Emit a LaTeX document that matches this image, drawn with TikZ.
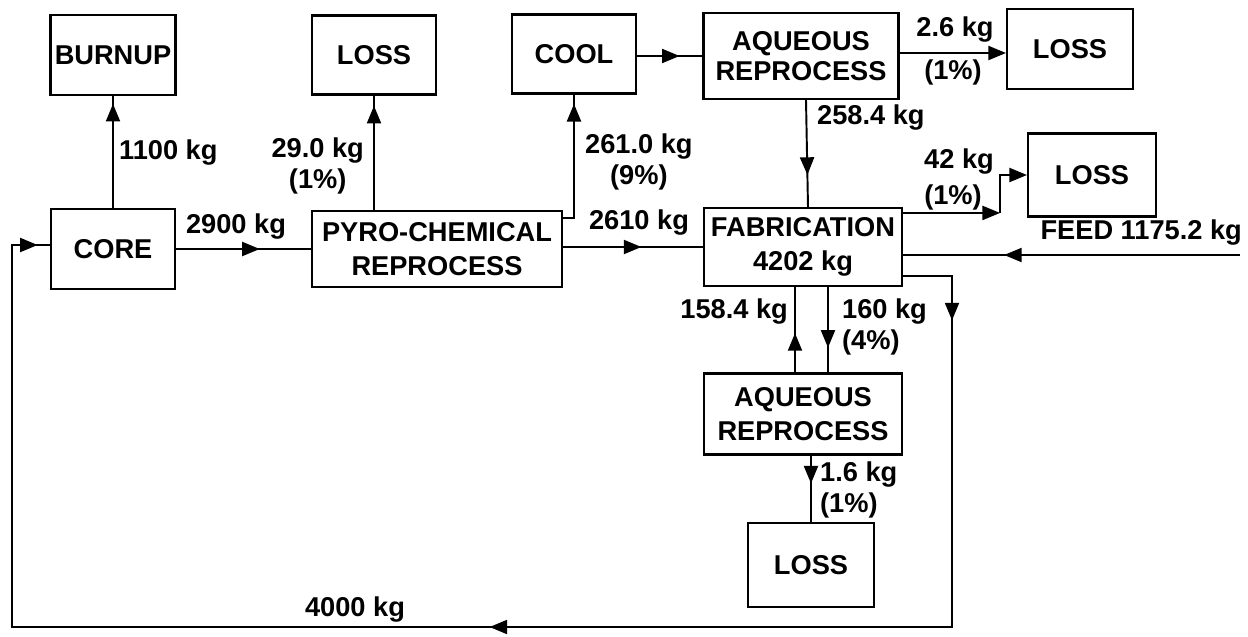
\documentclass[tikz,border=0pt]{standalone}
\usepackage{fontspec}
\setmainfont{Liberation Sans}
\usetikzlibrary{arrows.meta,decorations.markings}
\tikzset{
  blk/.style={draw,line width=1.2pt,align=center,inner sep=1pt,font=\bfseries\fontsize{15.5}{19}\selectfont},
  qty/.style={align=center,inner sep=1pt,font=\bfseries\fontsize{15.5}{17.5}\selectfont},
  flow/.style={line width=1.1pt},
  endtip/.style={-{Triangle[length=10pt,width=8pt]}},
  tipat/.style={postaction={decorate},decoration={markings,mark=at position #1 with {\arrow{Triangle[length=10pt,width=8pt]}}}}
}
\begin{document}
\begin{tikzpicture}[x=0.02cm,y=-0.02cm]
      \useasboundingbox (0,0) rectangle (1248,636);
      \node[blk,minimum width=2.5cm,minimum height=1.6cm] (burnup) at (113,55) {BURNUP};
      \node[blk,minimum width=2.48cm,minimum height=1.58cm] (lossa) at (374,55) {LOSS};
      \node[blk,minimum width=2.48cm,minimum height=1.58cm] (cool) at (574,54) {COOL};
      \node[blk,minimum width=3.9cm,minimum height=1.72cm,font=\bfseries\fontsize{15.5}{17}\selectfont] (aqtop) at (801,56) {AQUEOUS\\REPROCESS};
      \node[blk,minimum width=2.52cm,minimum height=1.6cm] (lossb) at (1070,49) {LOSS};
      \node[blk,minimum width=2.56cm,minimum height=1.66cm] (lossc) at (1092,175) {LOSS};
      \node[blk,minimum width=2.48cm,minimum height=1.6cm] (core) at (113,249) {CORE};
      \node[blk,minimum width=5cm,minimum height=1.52cm] (pyro) at (437,249) {PYRO-CHEMICAL\\REPROCESS};
      \node[blk,minimum width=3.96cm,minimum height=1.56cm] (fab) at (803,247) {FABRICATION\\4202 kg};
      \node[blk,minimum width=3.96cm,minimum height=1.62cm] (aqlow) at (803,414) {AQUEOUS\\REPROCESS};
      \node[blk,minimum width=2.52cm,minimum height=1.68cm] (lossd) at (811,565) {LOSS};

      \node[qty,anchor=west] (m1100) at (117,153) {1100 kg};
      \node[qty,anchor=east] (m290) at (366,166) {29.0 kg\\(1\%)};
      \node[qty,anchor=west] (m2610a) at (583,162) {261.0 kg\\(9\%)};
      \node[qty] (m2900) at (236,227) {2900 kg};
      \node[qty] (m2610) at (639,223) {2610 kg};
      \node[qty] (m26) at (955,30) {2.6 kg};
      \node[qty] (p26) at (953,72) {(1\%)};
      \node[qty,anchor=west] (m2584) at (815,118) {258.4 kg};
      \node[qty] (m42) at (959,162) {42 kg};
      \node[qty] (p42) at (953,197) {(1\%)};
      \node[qty,anchor=east] (mfeed) at (1244,233) {FEED 1175.2 kg};
      \node[qty] (m4000) at (355,610) {4000 kg};
      \node[qty,anchor=east] (m1584) at (790,312) {158.4 kg};
      \node[qty,anchor=west,align=left] (m160) at (840,327) {160 kg\\(4\%)};
      \node[qty,anchor=west,align=left] (m16) at (818,490) {1.6 kg\\(1\%)};

      \coordinate (aqout) at ([yshift=0.06cm]aqtop.east);
      \coordinate (fabloss) at ([yshift=-0.12cm]fab.north east);
      \coordinate (feedin) at (1240,255);
      \coordinate (retr) at (952,627);
      \coordinate (retl) at (12,627);

      \draw[flow,tipat=0.93] (core.north) -- (burnup.south);
      \draw[flow,tipat=0.91] (lossa.south |- pyro.north) -- (lossa.south);
      \draw[flow,tipat=0.93] ([yshift=-0.16cm]pyro.north east) -| (cool.south);
      \draw[flow,tipat=0.65] (cool.east |- aqtop.west) -- (aqtop.west);
      \draw[flow,endtip] (aqout) -- (lossb.west |- aqout);
      \draw[flow,tipat=0.7] ([xshift=0.1cm]aqtop.south) -- ([xshift=0.1cm]fab.north);
      \draw[flow,tipat=0.62] (core.east) -- (pyro.west);
      \draw[flow,tipat=0.56] (pyro.east |- fab.west) -- (fab.west);
      \draw[flow,endtip] (fabloss) -- ++(97,0) coordinate (lossbend);
      \draw[flow,endtip] (lossbend) |- (lossc.west);
      \draw[flow,tipat=0.7] (feedin) -- (fab.east |- feedin);
      \draw[flow,tipat=0.46] ([xshift=-0.16cm]aqlow.north) -- ([xshift=-0.16cm]fab.south);
      \draw[flow,tipat=0.71] ([xshift=0.5cm]fab.south) -- ([xshift=0.5cm]aqlow.north);
      \draw[flow,tipat=0.42] (lossd.north |- aqlow.south) -- (lossd.north);
      \draw[flow,postaction={decorate},decoration={markings,
          mark=at position 0.053 with {\arrow{Triangle[length=10pt,width=8pt]}},
          mark=at position 0.49 with {\arrow{Triangle[length=10pt,width=8pt]}},
          mark=at position 0.993 with {\arrow{Triangle[length=10pt,width=8pt]}}}]
        ([yshift=0.22cm]fab.south east) -| (retr) -- (retl) |- ([yshift=0.08cm]core.west);
    \end{tikzpicture}
\end{document}
